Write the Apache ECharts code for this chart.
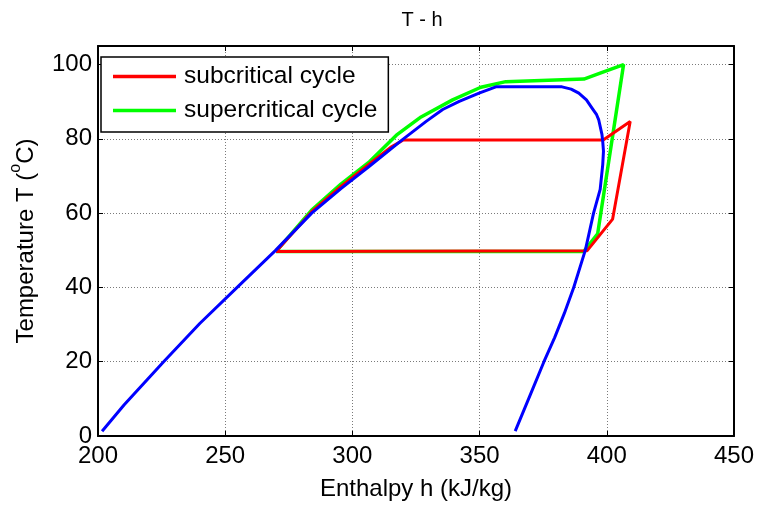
<!DOCTYPE html>
<html>
<head>
<meta charset="utf-8">
<script src="https://cdn.jsdelivr.net/npm/echarts@6/dist/echarts.min.js"></script>
<style>
html,body{margin:0;padding:0;background:#fff;}
#c{width:757px;height:506px;}
</style>
</head>
<body>
<div id="c"></div>
<script>
// ---- data ----
const chartTitle = 'T - h';
const xName = 'Enthalpy h (kJ/kg)';
const xTicks = [200, 250, 300, 350, 400, 450];
const yTicks = [0, 20, 40, 60, 80, 100];

// saturation dome (blue)
const domeH = [201.6, 210.3, 225.8, 240, 254.7, 269.7, 284, 295.5, 306.8, 319.7, 329, 335.5, 342, 349.8, 356.4, 370, 382.4, 386, 389, 392, 394.2, 396, 396.8, 398.1, 398.4, 398.7, 398.4, 397.4, 394.8, 391.6, 387, 383.3, 379.5, 375.3, 370, 364];
const domeT = [1.3, 8.4, 20, 30.3, 40, 49.9, 60, 66.6, 72.7, 79.8, 84.7, 87.9, 90.1, 92.3, 94.0, 94.0, 94.0, 93.4, 92.3, 90.5, 88.3, 86.5, 85.2, 81.2, 79.4, 76.7, 73, 66.4, 60, 50.1, 40, 33, 26.5, 20, 11.2, 1.3];

// subcritical cycle (red)
const subName = 'subcritical cycle';
const subH = [270, 284, 295.5, 306.8, 315, 320, 398.6, 409.2, 402.3, 392.3, 270];
const subT = [49.7, 60.4, 67.2, 73.3, 77.7, 79.7, 79.7, 84.7, 58.4, 49.9, 49.7];

// supercritical cycle (green)
const supName = 'supercritical cycle';
const supH = [270, 284, 295.5, 306.8, 317.3, 327, 339.4, 350.5, 360.3, 391, 397.4, 406.6, 396.4, 391, 270];
const supT = [49.7, 60.8, 67.8, 73.9, 81.0, 85.9, 90.5, 93.9, 95.4, 96.1, 97.7, 100, 54.4, 49.7, 49.7];

const zip = (a, b) => a.map((v, i) => [v, b[i]]);

const FONT = 'Liberation Sans, Arial, Helvetica, sans-serif';
const chart = echarts.init(document.getElementById('c'), null, {renderer: 'canvas'});

const gridLine = {show: true, lineStyle: {color: '#7a7a7a', width: 1, type: [1, 2]}};
const axLine = {show: true, onZero: false, lineStyle: {color: '#000', width: 2}};
const tick = {show: true, inside: true, length: 5, lineStyle: {color: '#000', width: 1}};

chart.setOption({
  animation: false,
  backgroundColor: '#fff',
  title: {
    text: chartTitle, left: 417, top: 5, textAlign: 'center',
    textStyle: {fontFamily: FONT, fontSize: 20, fontWeight: 'normal', color: '#000'}
  },
  legend: {
    orient: 'vertical', left: 101, top: 57,
    data: [subName, supName],
    icon: 'rect', itemWidth: 63, itemHeight: 3.5, itemGap: 9,
    padding: [7, 11, 9, 12],
    borderColor: '#000', borderWidth: 1.5, backgroundColor: '#fff',
    textStyle: {fontFamily: FONT, fontSize: 24.5, color: '#000', padding: [0, 0, 0, 3]},
    selectedMode: false
  },
  grid: {left: 97, right: 21, top: 46, bottom: 68, containLabel: false},
  xAxis: [
    {
      type: 'value', min: 200, max: 450, interval: 50, position: 'bottom',
      name: xName, nameLocation: 'middle', nameGap: 41,
      nameTextStyle: {fontFamily: FONT, fontSize: 24, color: '#000'},
      axisLine: axLine, axisTick: tick, splitLine: gridLine,
      axisLabel: {fontFamily: FONT, fontSize: 24, color: '#000', margin: 8,
        formatter: v => (xTicks.indexOf(v) >= 0 ? String(v) : '')}
    },
    {
      type: 'value', min: 200, max: 450, interval: 50, position: 'top',
      axisLine: axLine, axisTick: tick, splitLine: {show: false}, axisLabel: {show: false}
    }
  ],
  yAxis: [
    {
      type: 'value', min: 0, max: 105, interval: 20, position: 'left',
      name: '{n|Temperature T (}{s|o}{n|C)}', nameLocation: 'middle', nameGap: 60, nameRotate: 90,
      nameTextStyle: {
        fontFamily: FONT, fontSize: 24, color: '#000',
        rich: {
          n: {fontFamily: FONT, fontSize: 24, color: '#000', lineHeight: 30, verticalAlign: 'bottom'},
          s: {fontFamily: FONT, fontSize: 16, color: '#000', lineHeight: 16, verticalAlign: 'top'}
        }
      },
      axisLine: axLine, axisTick: tick, splitLine: gridLine,
      axisLabel: {
        fontFamily: FONT, fontSize: 24, color: '#000', margin: 6, showMaxLabel: false,
        formatter: v => (yTicks.indexOf(v) >= 0 ? String(v) : '')
      }
    },
    {
      type: 'value', min: 0, max: 105, interval: 20, position: 'right',
      axisLine: axLine, axisTick: tick, splitLine: {show: false}, axisLabel: {show: false}
    }
  ],
  series: [
    {
      name: supName, type: 'line', xAxisIndex: 0, yAxisIndex: 0,
      data: zip(supH, supT), symbol: 'none', showSymbol: false,
      lineStyle: {color: '#00ff00', width: 3.5}, itemStyle: {color: '#00ff00'}, z: 2
    },
    {
      name: subName, type: 'line', xAxisIndex: 0, yAxisIndex: 0,
      data: zip(subH, subT), symbol: 'none', showSymbol: false,
      lineStyle: {color: '#ff0000', width: 3}, itemStyle: {color: '#ff0000'}, z: 3
    },
    {
      name: 'saturation', type: 'line', xAxisIndex: 0, yAxisIndex: 0,
      data: zip(domeH, domeT), symbol: 'none', showSymbol: false,
      lineStyle: {color: '#0000ff', width: 3}, itemStyle: {color: '#0000ff'}, z: 4
    }
  ]
});
</script>
</body>
</html>
